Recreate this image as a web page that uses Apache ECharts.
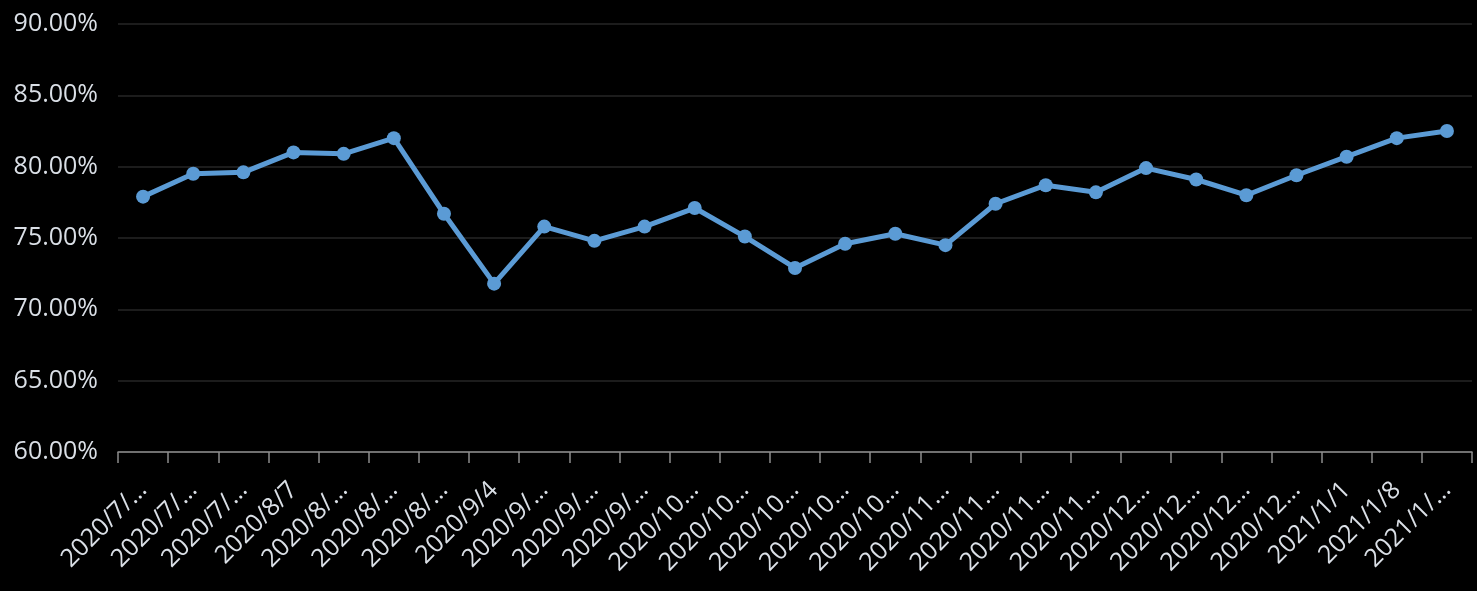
<!DOCTYPE html>
<html>
<head>
<meta charset="utf-8">
<script src="https://cdn.jsdelivr.net/npm/echarts@6/dist/echarts.min.js"></script>
<style>
  html, body { margin: 0; padding: 0; background: #000; }
  #chart { width: 1477px; height: 591px; }
</style>
</head>
<body>
<div id="chart"></div>
<script>
// weekly dates, Excel cuts the long ones
const categories = [
  '2020/7/17', '2020/7/24', '2020/7/31', '2020/8/7', '2020/8/14', '2020/8/21', '2020/8/28',
  '2020/9/4', '2020/9/11', '2020/9/18', '2020/9/25', '2020/10/2', '2020/10/9', '2020/10/16',
  '2020/10/23', '2020/10/30', '2020/11/6', '2020/11/13', '2020/11/20', '2020/11/27',
  '2020/12/4', '2020/12/11', '2020/12/18', '2020/12/25', '2021/1/1', '2021/1/8', '2021/1/15'
]
const rates = [
  77.9, 79.5, 79.6, 81.0, 80.9, 82.0, 76.7, 71.8, 75.8, 74.8, 75.8, 77.1, 75.1, 72.9,
  74.6, 75.3, 74.5, 77.4, 78.7, 78.2, 79.9, 79.1, 78.0, 79.4, 80.7, 82.0, 82.5
]
const yTicks = { min: 60, max: 90, step: 5 }

const textColor = '#dadfe6'
const fontFamily = '"Open Sans", "Noto Sans", sans-serif'

const myChart = echarts.init(document.getElementById('chart'))
myChart.setOption({
  backgroundColor: '#000',
  animation: false,
  grid: {
    left: 118,
    right: 5,
    top: 24,
    bottom: 139,
  },
  xAxis: {
    type: 'category',
    data: categories,
    boundaryGap: true,
    axisLine: { show: true, lineStyle: { color: '#8c8c8c', width: 1.5 } },
    axisTick: {
      show: true,
      interval: 0,
      alignWithLabel: false,
      length: 11,
      lineStyle: { color: '#8c8c8c', width: 1.5 },
    },
    axisLabel: {
      interval: 0,
      rotate: 45,
      margin: 34,
      color: textColor,
      fontFamily,
      fontSize: 25,
      formatter: (value) => (value.length > 8 ? value.slice(0, 7) + '…' : value),
    },
  },
  yAxis: {
    type: 'value',
    min: yTicks.min,
    max: yTicks.max,
    interval: yTicks.step,
    axisLine: { show: false },
    axisTick: { show: false },
    splitLine: { lineStyle: { color: '#262626', width: 1.5 } },
    axisLabel: {
      margin: 20,
      color: textColor,
      fontFamily,
      fontSize: 25,
      formatter: (value) => value.toFixed(2) + '%',
    },
  },
  series: [
    {
      type: 'line',
      data: rates,
      symbol: 'circle',
      symbolSize: 14,
      lineStyle: { color: '#5b9bd5', width: 5 },
      itemStyle: { color: '#5b9bd5' },
      emphasis: { disabled: true },
    },
  ],
})
</script>
</body>
</html>
